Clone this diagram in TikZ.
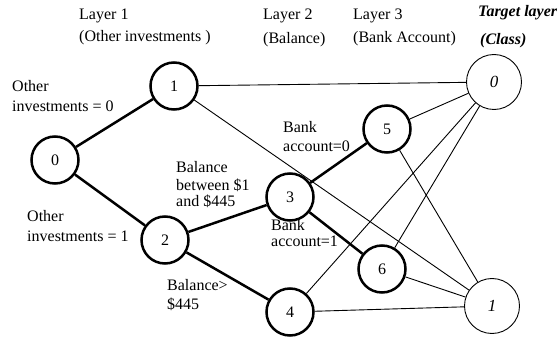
\documentclass[tikz,border=0pt]{standalone}
\usepackage{fontspec}
\setmainfont{Liberation Serif}
\begin{document}
\begin{tikzpicture}[x=1pt,y=-1pt,
  hidden/.style={circle,draw,line width=2.5pt,minimum size=47pt,inner sep=0pt,
    font=\fontsize{16}{19}\selectfont},
  target/.style={circle,draw,line width=0.9pt,minimum size=55pt,inner sep=0pt,
    font=\fontsize{17}{20}\selectfont\itshape},
  strong/.style={line width=2.5pt},
  weak/.style={line width=0.9pt},
  txt/.style={anchor=base west,inner sep=0pt,font=\fontsize{16}{19}\selectfont},
  headit/.style={txt,font=\fontsize{16}{19}\selectfont\bfseries\itshape}]
\useasboundingbox (0,0) rectangle (558,337);

% layer headings
\node[txt] (h1a) at (79,20) {Layer 1};
\node[txt] (h1b) at (79,42) {(Other investments )};
\node[txt] (h2a) at (263,20) {Layer 2};
\node[txt] (h2b) at (263,44) {(Balance)};
\node[txt] (h3a) at (353,20) {Layer 3};
\node[txt] (h3b) at (353,43) {(Bank Account)};
\node[headit] (h4a) at (478,17) {Target layer};
\node[headit] (h4b) at (480,45) {(Class)};

% nodes of the tree
\node[hidden] (n0) at (55,160) {0};
\node[hidden] (n1) at (174,86) {1};
\node[hidden] (n2) at (165,240) {2};
\node[hidden] (n3) at (290,197) {3};
\node[hidden] (n4) at (290,312) {4};
\node[hidden] (n5) at (387,129) {5};
\node[hidden] (n6) at (382,269) {6};
\node[target] (t0) at (494,82) {0};
\node[target] (t1) at (492,306) {1};

% tree branches
\draw[strong] (n0) -- (n1);
\draw[strong] (n0) -- (n2);
\draw[strong] (n2) -- (n3);
\draw[strong] (n2) -- (n4);
\draw[strong] (n3) -- (n5);
\draw[strong] (n3) -- (n6);

% links to the class nodes
\draw[weak] (n1) -- (t0);
\draw[weak] (n1) -- (t1);
\draw[weak] (n5) -- (t0);
\draw[weak] (n5) -- (t1);
\draw[weak] (n6) -- (t0);
\draw[weak] (n6) -- (t1);
\draw[weak] (n4) -- (t0);
\draw[weak] (n4) -- (t1);

% branch labels
\node[txt] (l1a) at (12,92) {Other};
\node[txt] (l1b) at (12,112) {investments = 0};
\node[txt] (l2a) at (27,222) {Other};
\node[txt] (l2b) at (27,241) {investments = 1};
\node[txt] (l3a) at (176,173) {Balance};
\node[txt] (l3b) at (176,191) {between \$1};
\node[txt] (l3c) at (176,207) {and \$445};
\node[txt] (l4a) at (167,290) {Balance>};
\node[txt] (l4b) at (167,309) {\$445};
\node[txt] (l5a) at (283,132) {Bank};
\node[txt] (l5b) at (283,152) {account=0};
\node[txt] (l6a) at (271,230) {Bank};
\node[txt] (l6b) at (271,247) {account=1};
\end{tikzpicture}
\end{document}
